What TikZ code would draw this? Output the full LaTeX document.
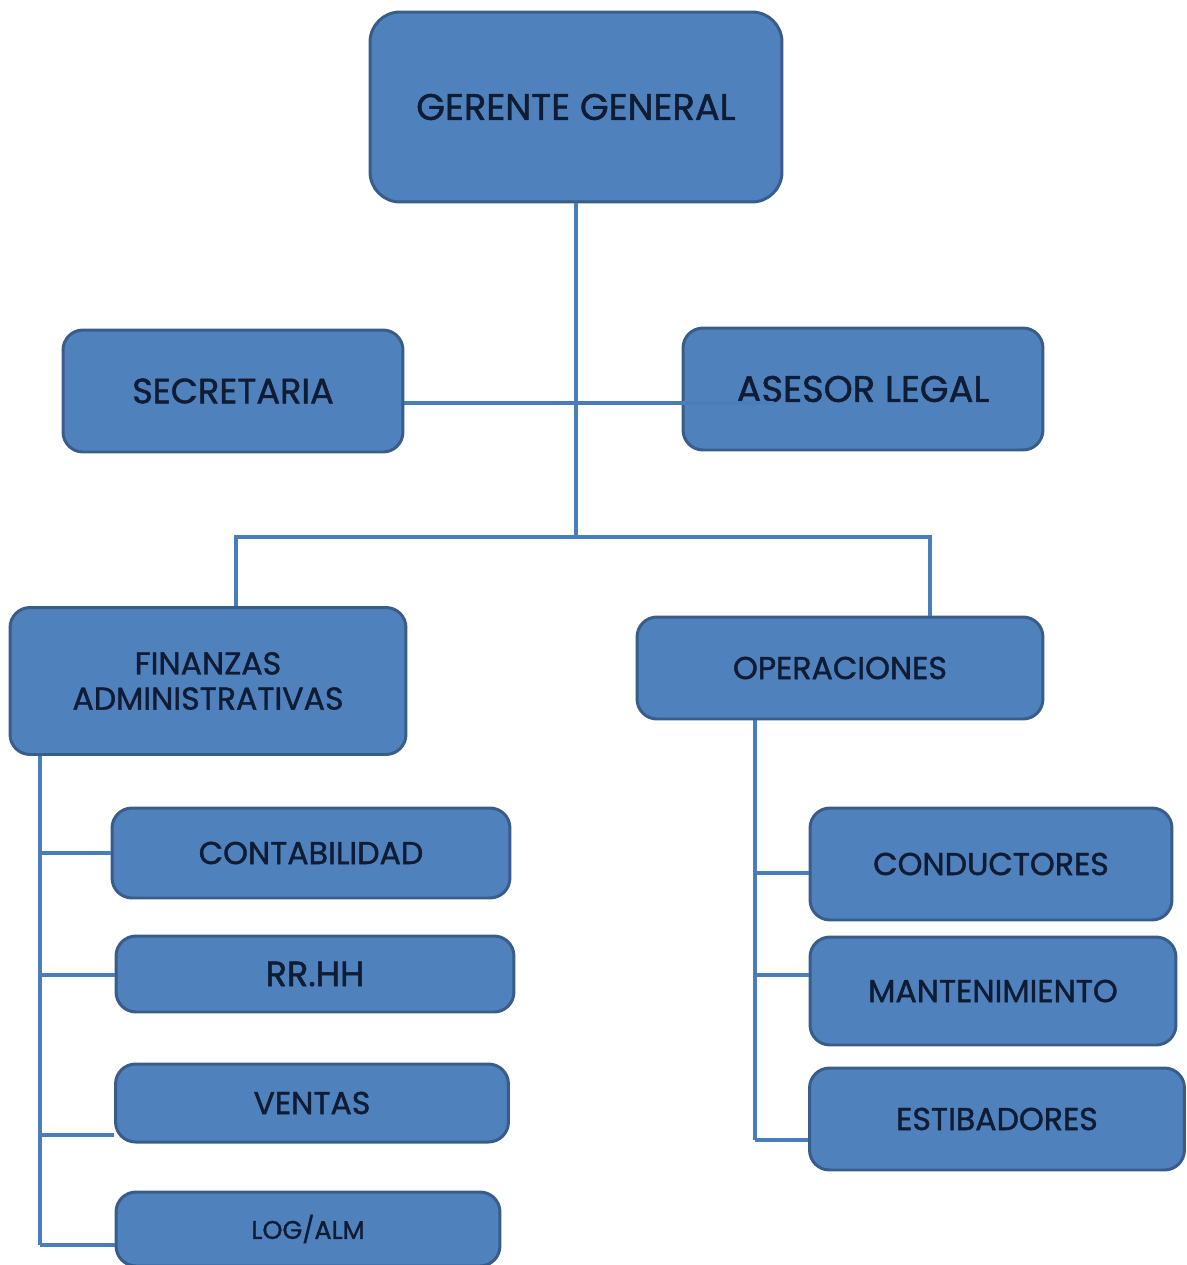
\documentclass[tikz,border=0pt]{standalone}
\usepackage{fontspec}
\setmainfont{Poppins}[FakeBold=1.3]
\usepackage{xcolor}
\definecolor{BoxBlue}{RGB}{79, 129, 189}
\definecolor{EdgeBlue}{RGB}{56, 93, 138}
\definecolor{LineBlue}{RGB}{74, 126, 187}
\definecolor{InkNavy}{RGB}{16, 28, 52}
\usepackage{tikz}
\usetikzlibrary{positioning, calc}

\begin{document}
\begin{tikzpicture}[
        x=0.02cm, y=-0.02cm,
        box/.style={draw=EdgeBlue, line width=1.7pt, rounded corners=0.4cm,
                    fill=BoxBlue, text=InkNavy, align=center,
                    font={\fontsize{18}{20}\selectfont}},
        big/.style={font={\fontsize{#1}{22}\selectfont}},
        link/.style={draw=LineBlue, line width=2.2pt}
    ]
        \useasboundingbox (0,0) rectangle (1187,1265);

        % top levels
        \node[box, big=21, rounded corners=0.6cm, minimum width=8.24cm, minimum height=3.8cm] (gg) at (576,107) {GERENTE GENERAL};
        \node[box, big=20, minimum width=6.8cm, minimum height=2.44cm] (sec) at (233,391) {SECRETARIA};
        \node[box, big=21, minimum width=7.2cm, minimum height=2.44cm] (ase) at (863,389) {ASESOR LEGAL};
        \node[box, minimum width=7.92cm, minimum height=2.94cm] (fin) at (208,681) {FINANZAS\\ADMINISTRATIVAS};
        \node[box, minimum width=8.12cm, minimum height=2.04cm] (ope) at (840,668) {OPERACIONES};

        % finanzas
        \node[box, minimum width=7.96cm, minimum height=1.8cm] (con) at (311,853) {CONTABILIDAD};
        \node[box, big=20, minimum width=7.96cm, minimum height=1.52cm] (rrhh) at (315,974) {RR.HH};
        \node[box, minimum width=7.86cm, minimum height=1.56cm] (ven) at (312,1103) {VENTAS};
        \node[box, big=14.5, minimum width=7.68cm, minimum height=1.48cm] (log) at (308,1229) {LOG/ALM};

        % operaciones
        \node[box, minimum width=7.24cm, minimum height=2.24cm] (cond) at (991,864) {CONDUCTORES};
        \node[box, minimum width=7.32cm, minimum height=2.16cm] (mant) at (993,991) {MANTENIMIENTO};
        \node[box, minimum width=7.5cm, minimum height=2.04cm] (est) at (997,1119) {ESTIBADORES};

        \coordinate (bus) at (0,403);
        \coordinate (hub) at (576,537);
        \coordinate (dropL) at (236,537);
        \coordinate (dropR) at (930,537);
        \coordinate (trunkL) at (40,0);
        \coordinate (trunkR) at (755,0);

        \draw[link] (gg.south) -- (hub);
        \draw[link] (sec.east |- bus) -- ([xshift=1.84cm]ase.west |- bus);
        \draw[link] (dropL |- fin.north) -- (dropL) -- (dropR) -- (dropR |- ope.north);

        \draw[link] (trunkL |- fin.south) -- (40,1245);
        \foreach \n/\y in {con/853, rrhh/975, ven/1135, log/1245}{
            \path (40,\y) coordinate (br);
            \draw[link] (br) -- (br -| \n.west);
        }

        \draw[link] (trunkR |- ope.south) -- (755,1140);
        \foreach \n/\y in {cond/873, mant/975, est/1140}{
            \path (755,\y) coordinate (br);
            \draw[link] (br) -- (br -| \n.west);
        }
    \end{tikzpicture}
\end{document}
